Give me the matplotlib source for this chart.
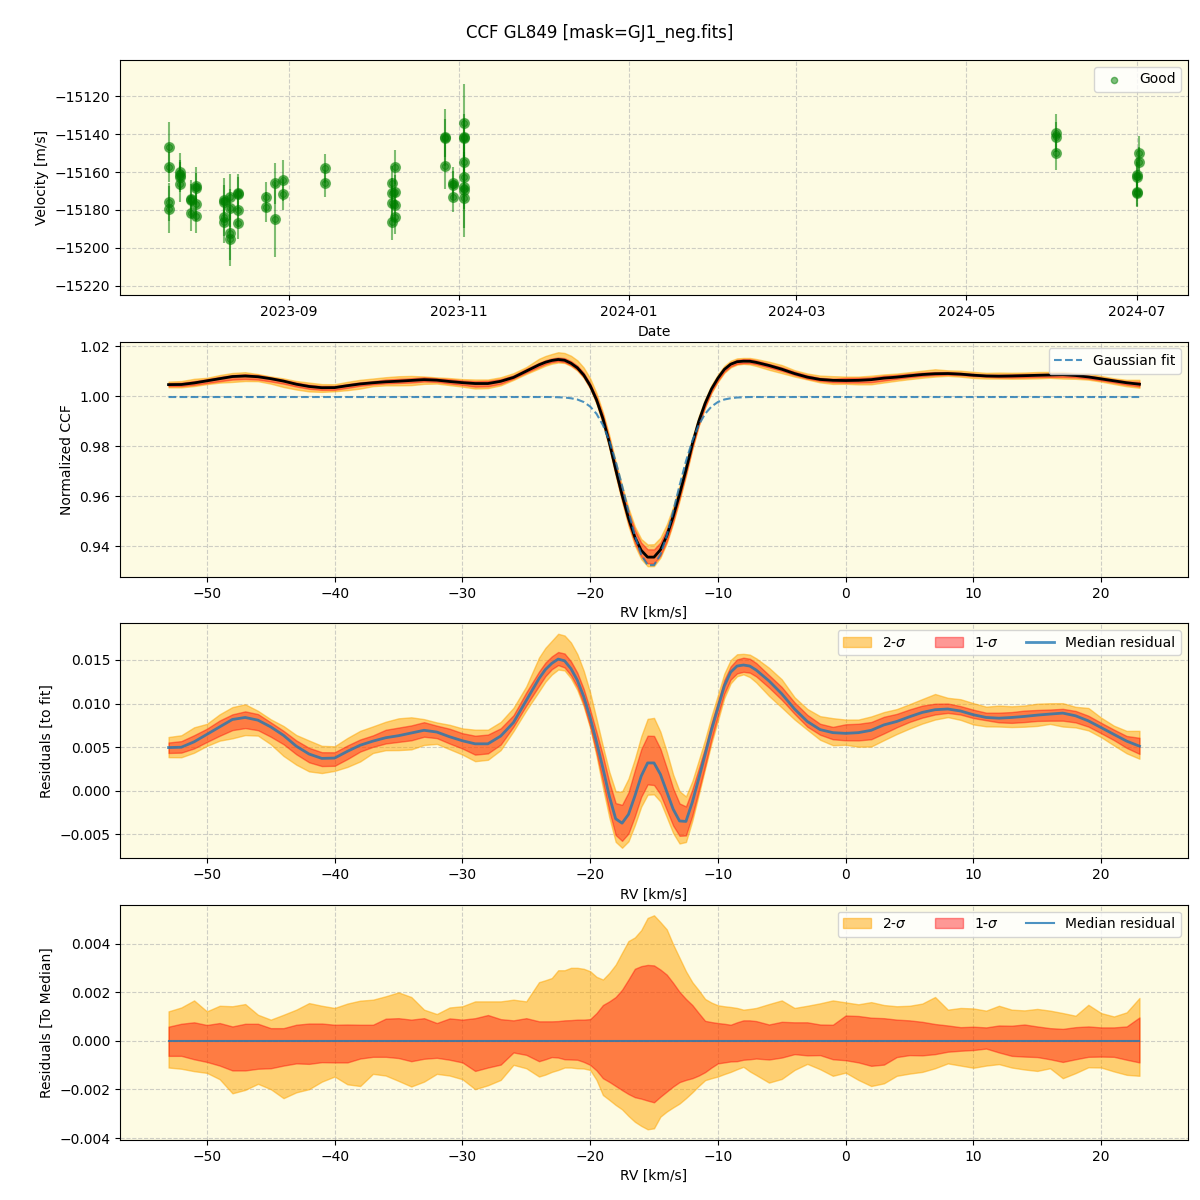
import matplotlib
matplotlib.use("Agg")
import matplotlib.pyplot as plt
import matplotlib.dates as mdates
import numpy as np
import pandas as pd

# ---- top panel: RV time series ("Good" points) ----
obs_dates = (["2023-07-20"] * 4 + ["2023-07-24"] * 4 + ["2023-07-28"] * 3 + ["2023-07-30"] * 4
             + ["2023-08-09"] * 4 + ["2023-08-11"] * 4 + ["2023-08-14"] * 4 + ["2023-08-24"] * 2
             + ["2023-08-27"] * 2 + ["2023-08-30"] * 2 + ["2023-09-14"] * 2 + ["2023-10-08"] * 4
             + ["2023-10-09"] * 4 + ["2023-10-27"] * 3 + ["2023-10-30"] * 3 + ["2023-11-03"] * 8
             + ["2024-06-02"] * 3 + ["2024-07-01"] * 4 + ["2024-07-02"] * 2)
vel = [-15147.0, -15157.2, -15176.0, -15179.6,
       -15159.8, -15161.6, -15162.5, -15166.3,
       -15174.0, -15174.5, -15181.4,
       -15167.4, -15168.6, -15177.0, -15183.0,
       -15175.0, -15175.6, -15183.9, -15186.3,
       -15173.3, -15179.1, -15192.3, -15195.3,
       -15170.9, -15171.6, -15180.0, -15187.0,
       -15173.3, -15178.2,
       -15166.0, -15184.9,
       -15164.4, -15171.8,
       -15158.1, -15166.0,
       -15166.0, -15171.2, -15176.5, -15186.5,
       -15157.5, -15170.7, -15177.4, -15183.5,
       -15141.6, -15142.2, -15156.8,
       -15166.0, -15166.6, -15173.3,
       -15134.4, -15141.6, -15142.2, -15154.9, -15162.8, -15167.7, -15169.5, -15173.9,
       -15139.6, -15141.4, -15150.2,
       -15161.6, -15162.5, -15170.4, -15171.0,
       -15150.2, -15154.9]
vel_err = [13.5, 8.0, 10.0, 12.3,
           9.6, 8.0, 8.0, 9.3,
           10.0, 8.0, 9.5,
           10.0, 8.0, 9.0, 9.3,
           12.0, 9.0, 10.0, 11.0,
           12.0, 10.0, 14.0, 14.0,
           10.0, 9.0, 9.0, 8.5,
           7.9, 7.9,
           11.0, 19.7,
           10.7, 8.2,
           7.6, 7.0,
           9.0, 8.0, 9.0, 9.3,
           9.0, 9.0, 9.0, 9.0,
           15.0, 10.0, 12.0,
           8.8, 7.0, 8.0,
           21.0, 12.0, 10.0, 15.0, 12.0, 12.0, 20.0, 20.5,
           10.0, 8.0, 9.0,
           9.0, 8.0, 8.2, 7.0,
           9.1, 8.0]

# ---- CCF panels: RV grid in km/s (finer around the line), residuals in 1e-3 ----
rv = ([float(v) for v in range(-53, -24)]
      + [v / 2 for v in range(-48, -13)]
      + [float(v) for v in range(-6, 24)])

gauss_fit = ([0.9997] * 29
             + [0.9997, 0.9997, 0.9997, 0.9996, 0.9995, 0.9992, 0.9987, 0.9977, 0.9959, 0.9930,
                0.9885, 0.9822, 0.9740, 0.9643, 0.9540, 0.9443, 0.9367, 0.9325, 0.9325, 0.9367,
                0.9443, 0.9540, 0.9643, 0.9740, 0.9822, 0.9885, 0.9930, 0.9959, 0.9977, 0.9987,
                0.9992, 0.9995, 0.9996, 0.9997, 0.9997]
             + [0.9997] * 30)

median_res_milli = [4.96, 5.00, 5.62, 6.47, 7.33, 8.18, 8.41, 8.10, 7.33, 6.36,
                    5.12, 4.22, 3.72, 3.76, 4.53, 5.23, 5.70, 6.09, 6.32, 6.63,
                    6.94, 6.74, 6.20, 5.74, 5.39, 5.39, 6.28, 7.83, 10.35,
                    # -24 .. -7 (0.5 steps)
                    12.87, 13.90, 14.61, 15.10, 14.90, 14.00, 12.67, 10.80, 8.41, 5.60,
                    2.60, -0.60, -3.20, -3.70, -2.70, -0.60, 1.70, 3.20, 3.20, 1.90,
                    -0.10, -2.10, -3.45, -3.50, -1.30, 1.40, 4.15, 7.00, 9.50, 12.00,
                    13.60, 14.30, 14.42, 14.30, 13.84,
                    # -6 .. 23
                    12.60, 11.12, 9.38, 7.95, 7.02, 6.67, 6.59, 6.67, 6.94, 7.56,
                    7.95, 8.49, 8.99, 9.30, 9.38, 9.15, 8.72, 8.41, 8.33, 8.41,
                    8.53, 8.68, 8.80, 8.91, 8.60, 8.02, 7.25, 6.47, 5.70, 5.12]

up2_milli = [1.21, 1.37, 1.66, 1.21, 1.44, 1.42, 1.51, 1.07, 0.87, 1.07,
             1.28, 1.55, 1.44, 1.35, 1.53, 1.65, 1.69, 1.83, 1.99, 1.80,
             1.28, 1.10, 1.37, 1.42, 1.62, 1.62, 1.62, 1.69, 1.62,
             2.41, 2.49, 2.58, 2.90, 2.90, 3.00, 3.00, 2.96, 2.86, 2.63,
             2.52, 2.79, 3.13, 3.62, 4.10, 4.25, 4.55, 5.05, 5.16, 4.88,
             4.58, 3.96, 3.41, 2.86, 2.41, 2.08, 1.72, 1.57, 1.46, 1.42,
             1.39, 1.35, 1.28, 1.31, 1.35,
             1.51, 1.66, 1.35, 1.44, 1.54, 1.66, 1.58, 1.50, 1.59, 1.47,
             1.42, 1.44, 1.53, 1.80, 1.28, 1.35, 1.33, 1.24, 1.44, 1.28,
             1.25, 1.31, 1.24, 1.14, 1.03, 1.48, 1.14, 1.00, 1.17, 1.76]

up1_milli = [0.58, 0.70, 0.76, 0.65, 0.73, 0.59, 0.70, 0.70, 0.52, 0.52,
             0.66, 0.71, 0.71, 0.66, 0.67, 0.66, 0.66, 0.91, 0.93, 0.87,
             0.93, 0.73, 0.92, 0.87, 0.93, 1.06, 0.89, 0.84, 0.93,
             0.80, 0.80, 0.80, 0.81, 0.84, 0.85, 0.87, 0.87, 0.89, 1.14,
             1.47, 1.62, 1.80, 2.10, 2.52, 2.96, 3.07, 3.12, 3.10, 2.93,
             2.72, 2.38, 2.01, 1.72, 1.47, 1.14, 0.82, 0.77, 0.73, 0.70,
             0.66, 0.76, 0.84, 0.84, 0.81,
             0.67, 0.78, 0.76, 0.76, 0.67, 0.66, 1.04, 1.02, 0.95, 0.93,
             0.87, 0.84, 0.78, 0.69, 0.63, 0.56, 0.58, 0.55, 0.63, 0.62,
             0.67, 0.59, 0.52, 0.49, 0.56, 0.59, 0.55, 0.55, 0.59, 0.96]

lo1_milli = [-0.62, -0.62, -0.76, -0.87, -1.02, -1.22, -1.22, -1.15, -1.13, -1.02,
             -0.93, -0.95, -0.88, -0.89, -0.89, -0.73, -0.66, -0.66, -0.71, -0.84,
             -0.74, -0.70, -0.78, -0.89, -1.24, -1.10, -0.98, -0.48, -0.58,
             -0.84, -0.76, -0.67, -0.69, -0.76, -0.77, -0.78, -0.87, -0.99, -1.22,
             -1.54, -1.69, -1.86, -2.03, -2.19, -2.32, -2.38, -2.46, -2.53, -2.30,
             -2.09, -1.88, -1.70, -1.61, -1.54, -1.43, -1.29, -1.10, -0.93, -0.89,
             -0.85, -0.84, -0.78, -0.76, -0.73,
             -0.77, -0.69, -0.55, -0.60, -0.59, -0.76, -0.80, -0.89, -1.03, -0.98,
             -0.67, -0.59, -0.60, -0.55, -0.45, -0.41, -0.38, -0.32, -0.48, -0.62,
             -0.65, -0.67, -0.76, -0.87, -0.76, -0.66, -0.65, -0.66, -0.78, -0.89]

lo2_milli = [-1.10, -1.15, -1.25, -1.32, -1.58, -2.16, -2.02, -1.77, -1.99, -2.36,
             -2.12, -1.99, -1.68, -1.47, -1.79, -1.86, -1.36, -1.43, -1.65, -1.88,
             -1.68, -1.36, -1.43, -1.58, -1.99, -1.83, -1.61, -0.99, -1.13,
             -1.47, -1.39, -1.28, -1.20, -1.10, -1.10, -1.13, -1.14, -1.20, -1.61,
             -2.23, -2.43, -2.64, -2.82, -3.09, -3.33, -3.50, -3.64, -3.60, -3.12,
             -2.91, -2.74, -2.58, -2.36, -2.12, -1.86, -1.62, -1.54, -1.47, -1.37,
             -1.28, -1.17, -1.07, -1.26, -1.41,
             -1.72, -1.57, -1.20, -0.95, -1.17, -1.44, -1.31, -1.61, -1.86, -1.75,
             -1.44, -1.35, -1.28, -1.13, -0.93, -1.02, -1.11, -1.02, -0.96, -1.10,
             -1.18, -1.24, -1.13, -1.54, -1.33, -1.09, -1.10, -1.26, -1.40, -1.44]

BG = "#fdfbe3"


def bands(ax, x, center, lo2, lo1, up1, up2, line_kw):
    ax.fill_between(x, center + lo2, center + up2, color="orange", alpha=0.5, label="2-$\\sigma$")
    ax.fill_between(x, center + lo1, center + up1, color="red", alpha=0.4, label="1-$\\sigma$")
    ax.plot(x, center, **line_kw)


def main() -> None:
    x = np.array(rv)
    fit = np.array(gauss_fit)
    med = np.array(median_res_milli) * 1e-3
    u2 = np.array(up2_milli) * 1e-3
    u1 = np.array(up1_milli) * 1e-3
    l1 = np.array(lo1_milli) * 1e-3
    l2 = np.array(lo2_milli) * 1e-3
    ccf = fit + med

    fig, axes = plt.subplots(4, 1, figsize=(12, 12))
    fig.subplots_adjust(left=0.1, right=0.99, top=0.95, bottom=0.05, hspace=0.196)
    fig.suptitle("CCF GL849 [mask=GJ1_neg.fits]", fontsize=12, y=0.98)

    # panel 1: velocities
    ax = axes[0]
    d = pd.to_datetime(obs_dates)
    ax.errorbar(d, vel, yerr=vel_err, fmt="o", color="green", ms=7, alpha=0.5)
    ax.scatter(d, vel, s=20, color="green", alpha=0.5, label="Good")
    ax.set_ylim(-15225, -15101)
    ax.xaxis.set_major_locator(mdates.MonthLocator(bymonth=[1, 3, 5, 7, 9, 11]))
    ax.xaxis.set_major_formatter(mdates.DateFormatter("%Y-%m"))
    ax.set_xlabel("Date"); ax.set_ylabel("Velocity [m/s]")
    ax.legend(loc="upper right")

    # panel 2: CCF with Gaussian fit
    ax = axes[1]
    bands(ax, x, ccf, l2, l1, u1, u2, dict(color="black", lw=2))
    ax.plot(x, fit, ls="--", color="tab:blue", alpha=0.8, lw=1.5, label="Gaussian fit")
    ax.set_xlabel("RV [km/s]"); ax.set_ylabel("Normalized CCF")
    h, lab = ax.get_legend_handles_labels()
    ax.legend([h[-1]], [lab[-1]], loc="upper right")

    # panel 3: residuals to fit
    ax = axes[2]
    bands(ax, x, med, l2, l1, u1, u2, dict(color="tab:blue", alpha=0.8, lw=2, label="Median residual"))
    ax.set_xlabel("RV [km/s]"); ax.set_ylabel("Residuals [to fit]")
    ax.legend(loc="upper right", ncol=3)

    # panel 4: residuals to median
    ax = axes[3]
    bands(ax, x, np.zeros_like(med), l2, l1, u1, u2,
          dict(color="tab:blue", alpha=0.8, lw=1.5, label="Median residual"))
    ax.set_xlabel("RV [km/s]"); ax.set_ylabel("Residuals [To Median]")
    ax.legend(loc="upper right", ncol=3)

    for ax in axes:
        ax.set_facecolor(BG)
        ax.grid(True, ls="--", alpha=0.6)
        ax.set_axisbelow(True)

    fig.savefig("out.png", dpi=100)


if __name__ == "__main__":
    main()
